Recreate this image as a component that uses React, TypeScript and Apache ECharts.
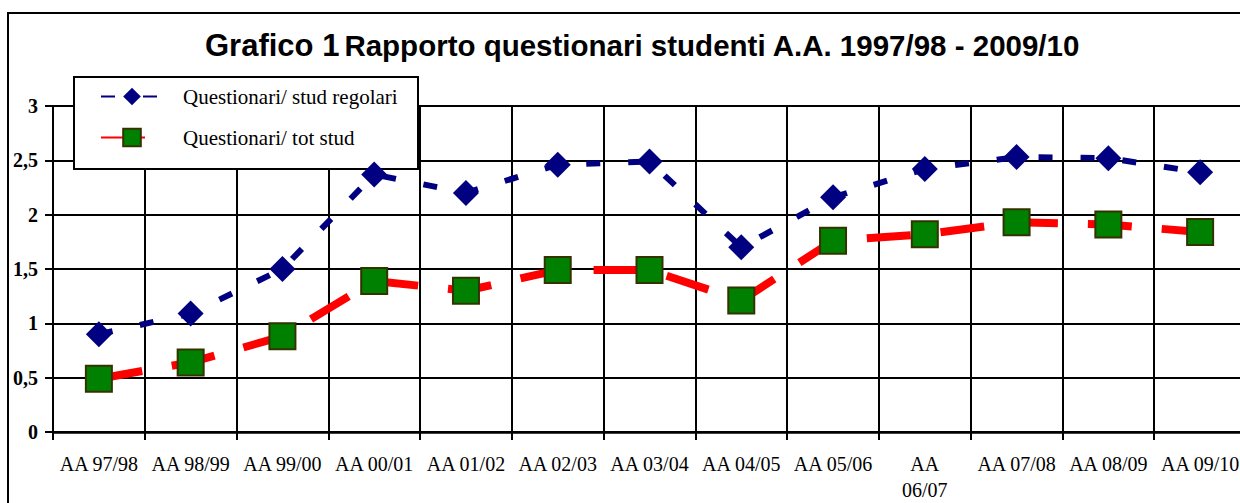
import React, { useEffect, useRef } from "react";
import * as echarts from "echarts";

const categories = [
  "AA 97/98", "AA 98/99", "AA 99/00", "AA 00/01", "AA 01/02", "AA 02/03", "AA 03/04",
  "AA 04/05", "AA 05/06", "AA 06/07", "AA 07/08", "AA 08/09", "AA 09/10",
];
const studRegolari = [0.9, 1.09, 1.5, 2.37, 2.2, 2.46, 2.49, 1.7, 2.16, 2.42, 2.53, 2.52, 2.39];
const totStud = [0.49, 0.64, 0.88, 1.39, 1.3, 1.49, 1.49, 1.21, 1.76, 1.82, 1.93, 1.91, 1.84];
const seriesNames = ["Questionari/ stud regolari", "Questionari/ tot stud"];
const titleMain = "Grafico 1";
const titleSub = "Rapporto questionari studenti A.A. 1997/98 - 2009/10";

const SERIF = "'Liberation Serif', 'Times New Roman', serif";
const SANS = "'Liberation Sans', Arial, sans-serif";

export default function App() {
  const ref = useRef<HTMLDivElement>(null);
  useEffect(() => {
    if (!ref.current) return;
    const chart = echarts.init(ref.current, null, { renderer: "svg" });
    chart.setOption({
      animation: false,
      backgroundColor: "#ffffff",
      title: {
        text: `{a|${titleMain}} {b|${titleSub}}`,
        left: 205,
        top: 30,
        padding: 0,
        textStyle: {
          rich: {
            a: { fontFamily: SANS, fontWeight: "bold", fontSize: 31, color: "#000" },
            b: { fontFamily: SANS, fontWeight: "bold", fontSize: 29.5, color: "#000" },
          },
        },
      },
      graphic: [
        {
          type: "rect",
          z: -1,
          shape: { x: 8, y: 13, width: 1300, height: 600 },
          style: { fill: "none", stroke: "#000", lineWidth: 2 },
        },
        {
          type: "rect",
          z: 1,
          shape: { x: 74, y: 77, width: 344, height: 92 },
          style: { fill: "#fff", stroke: "#000", lineWidth: 2 },
        },
      ],
      legend: {
        orient: "vertical",
        left: 100,
        top: 86,
        padding: 0,
        itemWidth: 62,
        itemHeight: 22,
        itemGap: 20,
        z: 4,
        textStyle: {
          fontFamily: SERIF,
          fontSize: 21,
          color: "#000",
          padding: [0, 0, 0, 15],
        },
        data: seriesNames,
      },
      grid: {
        left: 53,
        top: 106,
        bottom: 71,
        right: -6,
        containLabel: false,
        outerBoundsMode: "none",
      },
      xAxis: {
        type: "category",
        data: categories,
        boundaryGap: true,
        axisLine: { lineStyle: { color: "#000", width: 2.5 } },
        axisTick: { show: true, length: 8, interval: 0, lineStyle: { color: "#000", width: 2 } },
        splitLine: { show: true, interval: 0, lineStyle: { color: "#000", width: 2 } },
        axisLabel: {
          interval: 0,
          margin: 19,
          fontFamily: SERIF,
          fontSize: 20,
          lineHeight: 26,
          color: "#000",
          formatter: (v: string) => (v === "AA 06/07" ? "AA\n06/07" : v),
        },
      },
      yAxis: {
        type: "value",
        min: 0,
        max: 3,
        interval: 0.5,
        axisLine: { show: true, lineStyle: { color: "#000", width: 2 } },
        axisTick: { show: true, length: 8, lineStyle: { color: "#000", width: 2 } },
        splitLine: { show: true, lineStyle: { color: "#000", width: 2 } },
        axisLabel: {
          margin: 15,
          fontFamily: SERIF,
          fontWeight: "bold",
          fontSize: 20,
          color: "#000",
          formatter: (v: number) => String(v).replace(".", ","),
        },
      },
      series: [
        {
          name: seriesNames[0],
          type: "line",
          data: studRegolari,
          symbol: "diamond",
          symbolSize: 26,
          itemStyle: { color: "#000080" },
          lineStyle: { color: "#000080", width: 6, type: [14, 28] },
          z: 2,
        },
        {
          name: seriesNames[1],
          type: "line",
          data: totStud,
          symbol: "rect",
          symbolSize: 26,
          itemStyle: { color: "#008000", borderColor: "#333300", borderWidth: 2 },
          lineStyle: { color: "#ff0000", width: 8, type: [44, 30] },
          z: 3,
        },
      ],
    });
    return () => chart.dispose();
  }, []);
  return (
    <div
      ref={ref}
      style={{ position: "fixed", left: 0, top: 0, width: 1240, height: 503, overflow: "hidden" }}
    />
  );
}
